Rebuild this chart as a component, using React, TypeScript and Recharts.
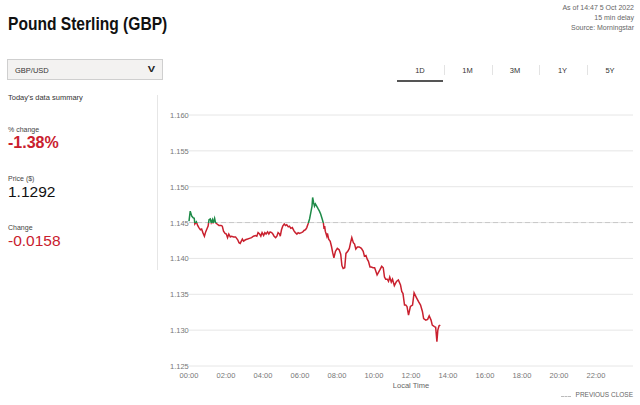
import React from "react";
import { LineChart, Line, XAxis, YAxis, CartesianGrid, ReferenceLine } from "recharts";

// minutes since 00:00 local time
const minutes = [
  0, 4, 9, 13, 17, 19, 24, 28, 32, 37, 41, 45, 50, 54, 58, 62, 65, 69, 72, 76, 78, 83, 86, 91, 97,
  104, 108, 112, 117, 121, 125, 129, 134, 138, 145, 151, 158, 162, 166, 173, 177, 183, 190, 196, 203,
  209, 216, 220, 224, 229, 233, 237, 242, 246, 250, 255, 259, 263, 268, 272, 276, 281, 285, 289, 294,
  296, 300, 304, 309, 313, 317, 322, 326, 330, 335, 341, 345, 350, 354, 358, 365, 369, 373, 378, 382,
  386, 391, 395, 399, 401, 404, 407, 410, 414, 419, 423, 427, 432, 436, 438, 440, 442, 447, 449, 453,
  458, 462, 466, 470, 475, 481, 487, 492, 496, 500, 505, 509, 515, 520, 524, 528, 533, 537, 541, 546,
  552, 559, 565, 569, 574, 578, 582, 587, 591, 597, 602, 606, 610, 615, 619, 625, 630, 634, 638, 643,
  647, 651, 656, 660, 666, 673, 679, 686, 690, 694, 699, 703, 707, 712, 718, 725, 730, 738, 744, 751,
  757, 761, 768, 774, 779, 785, 789, 796, 800, 804, 807, 811, 815,
];

const prices = [
  1.1452, 1.1466, 1.1459, 1.1457, 1.1456, 1.1448, 1.1451, 1.1446, 1.1443, 1.144, 1.1441, 1.1436, 1.1431, 1.1437, 1.1441, 1.1445, 1.1454, 1.1455, 1.145, 1.1454, 1.1449, 1.1456, 1.145, 1.1448, 1.1446,
  1.1446, 1.1445, 1.1438, 1.1435, 1.1434, 1.1429, 1.1434, 1.143, 1.1431, 1.143, 1.143, 1.1426, 1.1422, 1.1421, 1.1427, 1.1424, 1.1426, 1.1427, 1.1428, 1.1429,
  1.1431, 1.1432, 1.1431, 1.1436, 1.1434, 1.1431, 1.1436, 1.1432, 1.1436, 1.1434, 1.1437, 1.1434, 1.1437, 1.1436, 1.1434, 1.1431, 1.1429, 1.1431, 1.1436, 1.1434,
  1.1431, 1.144, 1.1445, 1.1448, 1.1446, 1.1447, 1.1444, 1.1445, 1.1442, 1.1443, 1.1438, 1.1436, 1.1434, 1.1436, 1.1435, 1.1436, 1.1437, 1.1439, 1.144, 1.1443,
  1.1448, 1.1455, 1.1464, 1.1473, 1.1485, 1.1478, 1.1473, 1.1476, 1.1473, 1.1469, 1.1466, 1.1462, 1.1455, 1.1449, 1.1441, 1.1445, 1.1438, 1.1431, 1.1435, 1.1427,
  1.1424, 1.1417, 1.1408, 1.1401, 1.141, 1.1414, 1.1412, 1.1406, 1.139, 1.1386, 1.1387, 1.1407, 1.141, 1.1414, 1.1422, 1.1429, 1.1422, 1.142, 1.1413, 1.1416,
  1.1416, 1.1414, 1.141, 1.1403, 1.1404, 1.1399, 1.1396, 1.1388, 1.1388, 1.1387, 1.1387, 1.1382, 1.1377, 1.1381, 1.1384, 1.1389, 1.1387, 1.1374, 1.1371, 1.1371,
  1.1368, 1.1374, 1.1367, 1.1371, 1.1362, 1.1368, 1.137, 1.1363, 1.1354, 1.1351, 1.1335, 1.1335, 1.1333, 1.1321, 1.1333, 1.1335, 1.1352, 1.1345, 1.134, 1.1335,
  1.1326, 1.1316, 1.1314, 1.1315, 1.132, 1.1314, 1.1307, 1.1305, 1.1304, 1.1284, 1.13, 1.1306, 1.1307,
];

const previousClose = 1.145;
const yTicks = [1.125, 1.13, 1.135, 1.14, 1.145, 1.15, 1.155, 1.16];
const xTicks = [0, 120, 240, 360, 480, 600, 720, 840, 960, 1080, 1200, 1320];
const xTickLabels = ["00:00", "02:00", "04:00", "06:00", "08:00", "10:00", "12:00", "14:00", "16:00", "18:00", "20:00", "22:00"];
const tabs = ["1D", "1M", "3M", "1Y", "5Y"];
const summary = [
  { label: "% change", value: "-1.38%" },
  { label: "Price ($)", value: "1.1292" },
  { label: "Change", value: "-0.0158" },
];

const data = minutes.map((m, i) => ({ t: m, p: prices[i] }));
const maxP = Math.max(...prices);
const minP = Math.min(...prices);
const splitOffset = (maxP - previousClose) / (maxP - minP);

const FONT = "Arial, 'Liberation Sans', Helvetica, sans-serif";
const GREEN = "#1d8a47";
const RED = "#c9202e";

const YTick = (props: any) => {
  const { y, payload } = props;
  return (
    <text x={10} y={y} dy={3} fontSize={7.5} fill="#777" fontFamily={FONT} textAnchor="start">
      {Number(payload.value).toFixed(3)}
    </text>
  );
};

export default function App() {
  return (
    <div style={{ position: "absolute", left: 0, top: 0, width: 640, height: 405, background: "#fff", fontFamily: FONT, overflow: "hidden" }}>
      <div
        style={{
          position: "absolute",
          left: 8,
          top: 13,
          fontSize: 19,
          fontWeight: 700,
          color: "#111",
          whiteSpace: "nowrap",
          transform: "scaleX(0.82)",
          transformOrigin: "0 0",
        }}
      >
        Pound Sterling (GBP)
      </div>
      <div style={{ position: "absolute", right: 6, top: 3, fontSize: 7, color: "#666", textAlign: "right", lineHeight: "10px", whiteSpace: "nowrap" }}>
        <div>As of 14:47 5 Oct 2022</div>
        <div>15 min delay</div>
        <div>Source: Morningstar</div>
      </div>

      <div style={{ position: "absolute", left: 7, top: 59, width: 156, height: 21, background: "#f3f2f1", border: "1px solid #cfcfcf", boxSizing: "border-box" }}>
        <div style={{ position: "absolute", left: 7, top: 6, fontSize: 7.5, color: "#333" }}>GBP/USD</div>
        <div style={{ position: "absolute", right: 7, top: 3, fontSize: 11, fontWeight: 700, color: "#222", transform: "scaleY(0.8)" }}>V</div>
      </div>

      {tabs.map((t, i) => (
        <div key={t} style={{ position: "absolute", left: 397 + i * 47.5, top: 66, width: 46, textAlign: "center", fontSize: 7.5, color: "#333" }}>
          {t}
        </div>
      ))}
      {[0, 1, 2, 3].map((i) => (
        <div key={i} style={{ position: "absolute", left: 444 + i * 47.5, top: 65, width: 1, height: 10, background: "#e3e3e3" }} />
      ))}
      <div style={{ position: "absolute", left: 397, top: 80, width: 46, height: 1.5, background: "#555" }} />

      <div style={{ position: "absolute", left: 8, top: 93, fontSize: 7.5, color: "#333" }}>Today's data summary</div>
      <div style={{ position: "absolute", left: 157, top: 95, width: 1, height: 175, background: "#e6e6e6" }} />

      {summary.map((s, i) => (
        <div key={s.label} style={{ position: "absolute", left: 8, top: 126 + i * 49 }}>
          <div style={{ fontSize: 7, color: "#444" }}>{s.label}</div>
          <div
            style={{
              fontSize: i === 0 ? 16 : 15.5,
              fontWeight: i === 0 ? 700 : 400,
              color: i === 1 ? "#111" : RED,
              marginTop: 1,
              lineHeight: "17px",
            }}
          >
            {s.value}
          </div>
        </div>
      ))}

      <div style={{ position: "absolute", left: 160, top: 100 }}>
        <LineChart width={480} height={300} data={data} margin={{ top: 15, right: 7, bottom: 4, left: 0 }}>
          <defs>
            <linearGradient id="splitColor" x1="0" y1="0" x2="0" y2="1">
              <stop offset={splitOffset} stopColor={GREEN} />
              <stop offset={splitOffset} stopColor={RED} />
            </linearGradient>
          </defs>
          <CartesianGrid vertical={false} stroke="#e6e6e6" strokeWidth={1} />
          <XAxis
            dataKey="t"
            type="number"
            domain={[0, 1440]}
            ticks={xTicks}
            tickFormatter={(v: number) => xTickLabels[xTicks.indexOf(v)] ?? ""}
            axisLine={false}
            tickLine={false}
            tickSize={0}
            tickMargin={7}
            height={30}
            tick={{ fontSize: 7.5, fill: "#777", fontFamily: FONT }}
            interval={0}
            label={{ value: "Local Time", position: "insideBottom", offset: 8, fontSize: 7.5, fill: "#666", fontFamily: FONT }}
          />
          <YAxis
            type="number"
            domain={[1.125, 1.16]}
            ticks={yTicks}
            axisLine={false}
            tickLine={false}
            width={29}
            tick={<YTick />}
            interval={0}
          />
          <ReferenceLine y={previousClose} stroke="#c8c8c8" strokeDasharray="5 3" strokeWidth={1} />
          <Line
            type="linear"
            dataKey="p"
            stroke="url(#splitColor)"
            strokeWidth={1.5}
            dot={false}
            isAnimationActive={false}
          />
        </LineChart>
      </div>

      <div style={{ position: "absolute", left: 561, top: 396, width: 10, height: 0, borderTop: "1px dashed #bbb" }} />
      <div style={{ position: "absolute", right: 7, top: 391, fontSize: 6.5, color: "#666", whiteSpace: "nowrap", textAlign: "right" }}>PREVIOUS CLOSE</div>
    </div>
  );
}
